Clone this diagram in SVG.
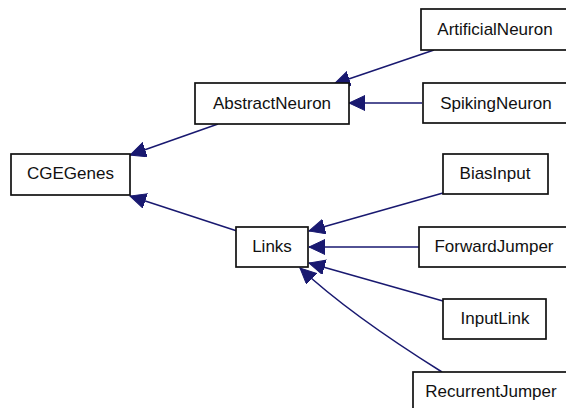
<svg xmlns="http://www.w3.org/2000/svg" width="566" height="408" viewBox="0 0 566 408">
<style>
.box{fill:#fff;stroke:#111;stroke-width:1.7}
.lbl{font-family:"Liberation Sans",Arial,sans-serif;font-size:17px;fill:#111;text-anchor:middle}
.edge{fill:none;stroke:#191970;stroke-width:1.5;marker-end:url(#ah)}
</style>
<defs>
<marker id="ah" markerUnits="userSpaceOnUse" markerWidth="20" markerHeight="18" refX="16" refY="7.5" orient="auto">
<path d="M0,0 L16,7.5 L0,15 z" fill="#191970" stroke="#191970" stroke-width="1"/>
</marker>
</defs>
<rect width="566" height="408" fill="#fff"/>
<g id="edges">
<path class="edge" d="M218,124 L130,155"/>
<path class="edge" d="M237,231 L130,196"/>
<path class="edge" d="M434,50 L334,84"/>
<path class="edge" d="M422,103 L349,103"/>
<path class="edge" d="M443,193 L309,231"/>
<path class="edge" d="M419,247 L309,247"/>
<path class="edge" d="M443,301 L309,263"/>
<path class="edge" d="M442,372 C410,352 345,310 300,268"/>
</g>
<g id="CGEGenes"><rect class="box" x="11" y="154" width="119" height="41"/><text class="lbl" x="70.5" y="179">CGEGenes</text></g>
<g id="AbstractNeuron"><rect class="box" x="195" y="83" width="154" height="41"/><text class="lbl" x="272" y="109">AbstractNeuron</text></g>
<g id="ArtificialNeuron"><rect class="box" x="421" y="9" width="149" height="41"/><text class="lbl" x="495" y="35">ArtificialNeuron</text></g>
<g id="SpikingNeuron"><rect class="box" x="423" y="83" width="147" height="40"/><text class="lbl" x="496" y="108.5">SpikingNeuron</text></g>
<g id="Links"><rect class="box" x="236" y="227" width="72" height="40"/><text class="lbl" x="272" y="252">Links</text></g>
<g id="BiasInput"><rect class="box" x="443" y="154" width="105" height="40"/><text class="lbl" x="495" y="179">BiasInput</text></g>
<g id="ForwardJumper"><rect class="box" x="419" y="227" width="151" height="40"/><text class="lbl" x="494" y="252">ForwardJumper</text></g>
<g id="InputLink"><rect class="box" x="443" y="299" width="103" height="40"/><text class="lbl" x="495" y="324">InputLink</text></g>
<g id="RecurrentJumper"><rect class="box" x="413" y="372" width="157" height="40"/><text class="lbl" x="491" y="397">RecurrentJumper</text></g>
</svg>
